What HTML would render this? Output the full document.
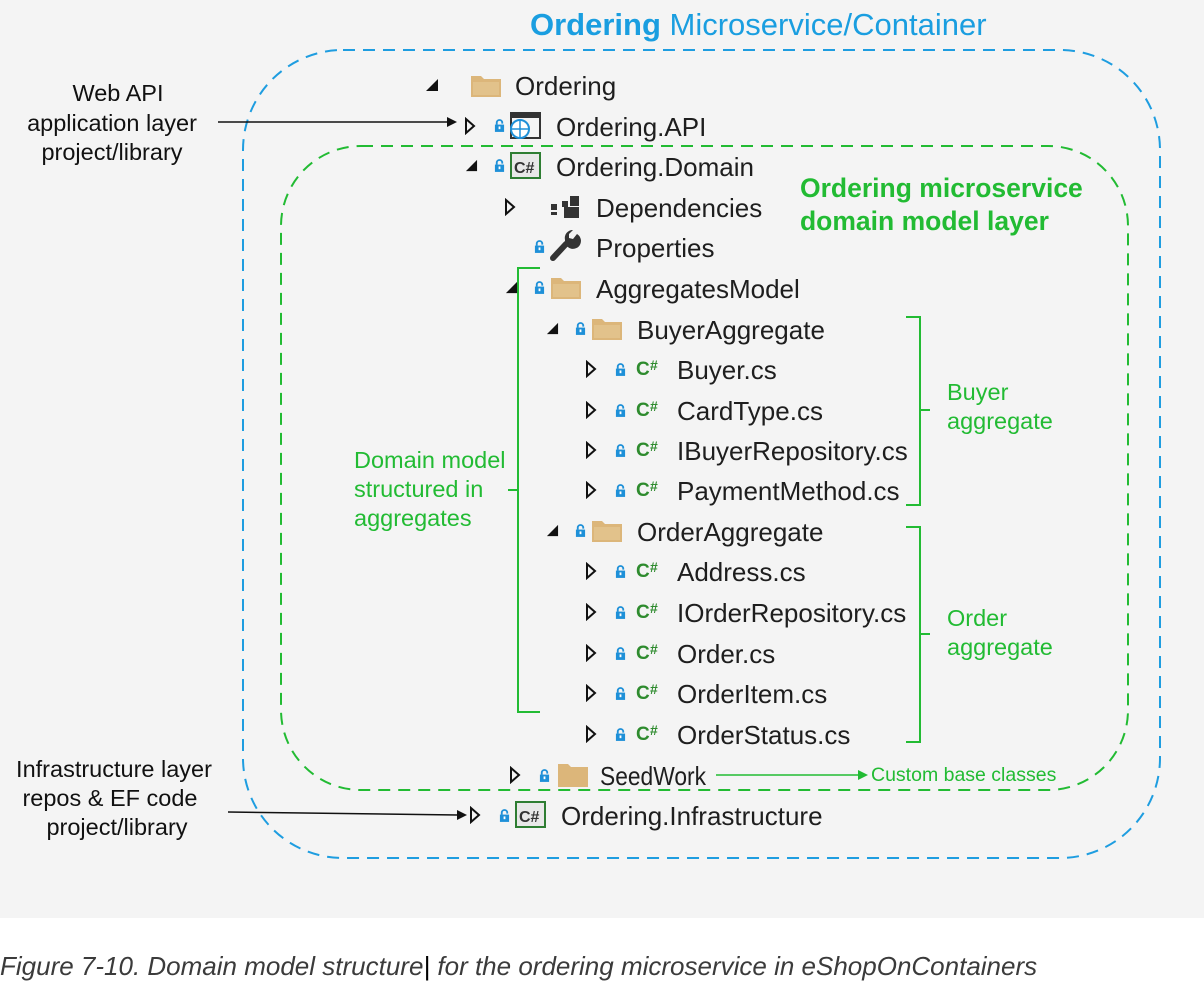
<!DOCTYPE html>
<html><head><meta charset="utf-8"><style>
html,body{margin:0;padding:0;background:#fff;}
svg{display:block;}
text{font-family:"Liberation Sans",sans-serif;}
</style></head><body>
<svg width="1204" height="988" viewBox="0 0 1204 988" xmlns="http://www.w3.org/2000/svg">
<defs>
<symbol id="to" viewBox="0 0 12 18"><polygon points="2,2 10,9 2,16" fill="none" stroke="#111" stroke-width="2"/></symbol>
<symbol id="tf" viewBox="0 0 14 14"><polygon points="1,13 13,1 13,13" fill="#111"/></symbol>
<symbol id="lk" viewBox="0 0 12 14"><path d="M3,6 V4 a3,3 0 0 1 6,0 V5" fill="none" stroke="#1e90d8" stroke-width="2"/><rect x="1" y="6" width="10" height="8" fill="#1e90d8"/><rect x="5" y="8" width="2" height="3" fill="#fff"/></symbol>
<symbol id="fd" viewBox="0 0 32 26"><path d="M1,4 h10 l3,3 h17 v18 h-30z" fill="#dcb67a"/><path d="M3,10 h26 v13 h-26z" fill="#e8cd9b" opacity="0.5"/></symbol>
<symbol id="cs" viewBox="0 0 28 20"><text x="0" y="17" font-family="Liberation Sans" font-weight="bold" font-size="19" fill="#2e8b2e">C</text><text x="14" y="12" font-family="Liberation Sans" font-weight="bold" font-size="14" fill="#2e8b2e">#</text></symbol>
</defs>
<rect x="0" y="0" width="1204" height="918" fill="#f4f4f4"/>

<text x="530" y="35" font-size="31" fill="#1a9ee0"><tspan font-weight="bold">Ordering</tspan> Microservice/Container</text>

<rect x="243" y="50" width="917" height="808" rx="100" fill="none" stroke="#1e9de0" stroke-width="2" stroke-dasharray="12,8"/>
<rect x="281" y="146" width="847" height="644" rx="80" fill="none" stroke="#22bb33" stroke-width="2" stroke-dasharray="12,8"/>

<text x="800" y="197" font-size="26.5" font-weight="bold" fill="#22bb33">Ordering microservice</text>
<text x="800" y="230" font-size="26.5" font-weight="bold" fill="#22bb33">domain model layer</text>
<g font-size="23.5" fill="#22bb33">
<text x="947" y="400">Buyer</text>
<text x="947" y="429">aggregate</text>
<text x="947" y="626">Order</text>
<text x="947" y="655">aggregate</text>
<text x="354" y="468">Domain model</text>
<text x="354" y="497">structured in</text>
<text x="354" y="526">aggregates</text>
</g>
<text x="871" y="781" font-size="19.5" fill="#22bb33">Custom base classes</text>

<path d="M540,268 H518 V712 H540 M518,490 H508" fill="none" stroke="#22bb33" stroke-width="2"/>
<path d="M906,317 H920 V505 H906 M920,410 H930" fill="none" stroke="#22bb33" stroke-width="2"/>
<path d="M906,527 H920 V742 H906 M920,634 H930" fill="none" stroke="#22bb33" stroke-width="2"/>
<line x1="716" y1="775" x2="860" y2="775" stroke="#22bb33" stroke-width="1.5"/>
<polygon points="868,775 858,770 858,780" fill="#22bb33"/>

<g font-size="23.5" fill="#111" text-anchor="middle">
<text x="118" y="101">Web API</text>
<text x="112" y="131">application layer</text>
<text x="112" y="160">project/library</text>
<text x="114" y="777">Infrastructure layer</text>
<text x="110" y="806">repos &amp; EF code</text>
<text x="117" y="835">project/library</text>
</g>
<line x1="218" y1="122" x2="448" y2="122" stroke="#111" stroke-width="1.5"/>
<polygon points="457,122 447,117 447,127" fill="#111"/>
<line x1="228" y1="812" x2="458" y2="815" stroke="#111" stroke-width="1.5"/>
<polygon points="467,815 457,810 457,820" fill="#111"/>

<g font-size="26" fill="#1e1e1e">
<use href="#tf" x="425" y="78" width="14" height="14"/>
<use href="#fd" x="470" y="72" width="32" height="26"/>
<text x="515" y="95">Ordering</text>
<use href="#to" x="464" y="117" width="12" height="18"/>
<use href="#lk" x="494" y="119" width="11" height="13"/>
<rect x="511" y="113" width="29" height="25" fill="none" stroke="#333" stroke-width="2"/>
<rect x="511" y="113" width="29" height="5" fill="#333"/>
<circle cx="520" cy="129" r="9" fill="#fff" stroke="#1e90d8" stroke-width="2"/>
<path d="M511,129 h18 M520,120 v18" stroke="#1e90d8" stroke-width="1.5"/>
<text x="556" y="136">Ordering.API</text>
<use href="#tf" x="465" y="159" width="13" height="13"/>
<use href="#lk" x="494" y="159" width="11" height="13"/>
<rect x="511" y="153" width="29" height="25" fill="#e8e8e8" stroke="#2e7d32" stroke-width="2"/>
<text x="514" y="173" font-size="16" font-weight="bold" fill="#333">C#</text>
<text x="556" y="176">Ordering.Domain</text>
<use href="#to" x="504" y="198" width="12" height="18"/>
<g fill="#333"><rect x="551" y="204" width="6" height="6"/><rect x="562" y="201" width="6" height="6"/><rect x="570" y="196" width="9" height="10"/><rect x="564" y="207" width="15" height="11"/><rect x="551" y="212" width="6" height="3"/></g>
<text x="596" y="217">Dependencies</text>
<use href="#lk" x="534" y="240" width="11" height="13"/>
<path d="M553,258 L566,244" stroke="#333" stroke-width="6" stroke-linecap="round"/>
<path d="M565,240 a8,8 0 1 0 12,-6 l-4,5 l-4,-1 l0,-4 l4,-4 a8,8 0 0 0 -8,10z" fill="#333"/>
<text x="596" y="257">Properties</text>
<use href="#tf" x="505" y="281" width="13" height="13"/>
<use href="#lk" x="534" y="281" width="11" height="13"/>
<use href="#fd" x="550" y="274" width="32" height="26"/>
<text x="596" y="298">AggregatesModel</text>
<use href="#tf" x="546" y="322" width="13" height="13"/>
<use href="#lk" x="575" y="322" width="11" height="13"/>
<use href="#fd" x="591" y="315" width="32" height="26"/>
<text x="637" y="339">BuyerAggregate</text>
<use href="#tf" x="546" y="524" width="13" height="13"/>
<use href="#lk" x="575" y="524" width="11" height="13"/>
<use href="#fd" x="591" y="517" width="32" height="26"/>
<text x="637" y="541">OrderAggregate</text>
<g>
<use href="#to" x="585" y="360" width="12" height="18"/><use href="#lk" x="615" y="363" width="11" height="13"/><use href="#cs" x="636" y="358" width="28" height="20"/><text x="677" y="379">Buyer.cs</text>
<use href="#to" x="585" y="401" width="12" height="18"/><use href="#lk" x="615" y="404" width="11" height="13"/><use href="#cs" x="636" y="399" width="28" height="20"/><text x="677" y="420">CardType.cs</text>
<use href="#to" x="585" y="441" width="12" height="18"/><use href="#lk" x="615" y="444" width="11" height="13"/><use href="#cs" x="636" y="439" width="28" height="20"/><text x="677" y="460">IBuyerRepository.cs</text>
<use href="#to" x="585" y="481" width="12" height="18"/><use href="#lk" x="615" y="484" width="11" height="13"/><use href="#cs" x="636" y="479" width="28" height="20"/><text x="677" y="500">PaymentMethod.cs</text>
<use href="#to" x="585" y="562" width="12" height="18"/><use href="#lk" x="615" y="565" width="11" height="13"/><use href="#cs" x="636" y="560" width="28" height="20"/><text x="677" y="581">Address.cs</text>
<use href="#to" x="585" y="603" width="12" height="18"/><use href="#lk" x="615" y="606" width="11" height="13"/><use href="#cs" x="636" y="601" width="28" height="20"/><text x="677" y="622">IOrderRepository.cs</text>
<use href="#to" x="585" y="644" width="12" height="18"/><use href="#lk" x="615" y="647" width="11" height="13"/><use href="#cs" x="636" y="642" width="28" height="20"/><text x="677" y="663">Order.cs</text>
<use href="#to" x="585" y="684" width="12" height="18"/><use href="#lk" x="615" y="687" width="11" height="13"/><use href="#cs" x="636" y="682" width="28" height="20"/><text x="677" y="703">OrderItem.cs</text>
<use href="#to" x="585" y="725" width="12" height="18"/><use href="#lk" x="615" y="728" width="11" height="13"/><use href="#cs" x="636" y="723" width="28" height="20"/><text x="677" y="744">OrderStatus.cs</text>
</g>
<use href="#to" x="509" y="766" width="12" height="18"/>
<use href="#lk" x="539" y="769" width="11" height="13"/>
<path d="M558,764 h10 l3,3 h17 v20 h-30z" fill="#dcb67a"/>
<text x="600" y="785" textLength="106" lengthAdjust="spacingAndGlyphs">SeedWork</text>
<use href="#to" x="469" y="806" width="12" height="18"/>
<use href="#lk" x="499" y="809" width="11" height="13"/>
<rect x="516" y="802" width="29" height="25" fill="#e8e8e8" stroke="#2e7d32" stroke-width="2"/>
<text x="519" y="822" font-size="16" font-weight="bold" fill="#333">C#</text>
<text x="561" y="825">Ordering.Infrastructure</text>
</g>

<text x="0" y="975" font-size="26" font-style="italic" fill="#3b3b3b">Figure 7-10. Domain model structure<tspan fill="#000">|</tspan> for the ordering microservice in eShopOnContainers</text>
</svg>
</body></html>
